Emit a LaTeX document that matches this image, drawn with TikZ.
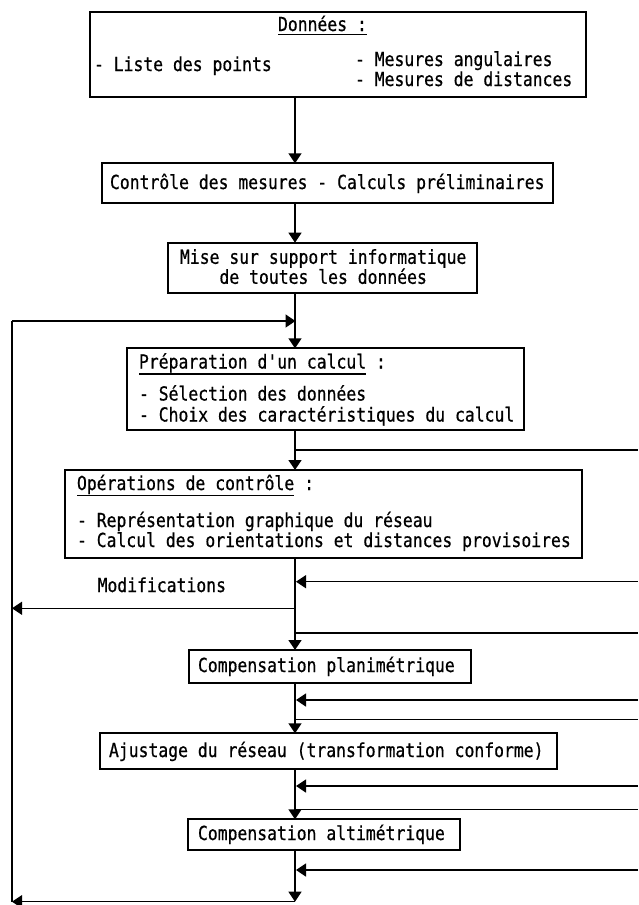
\documentclass[tikz,border=0pt]{standalone}
\usepackage{fontspec}
\newfontfamily\tw[FakeStretch=0.85,FakeBold=0.6]{DejaVu Sans Mono}
\usetikzlibrary{arrows.meta,calc}
\begin{document}
\begin{tikzpicture}[x=1pt,y=-1pt,
  box/.style={draw, line width=2pt, inner sep=0pt, outer sep=0pt, anchor=north west},
  lbl/.style={anchor=base west, inner sep=0pt, outer sep=0pt, font=\tw\fontsize{19.3}{21}\selectfont},
  conn/.style={line width=1.4pt},
  ul/.style={line width=1.3pt},
  arr/.style={conn, -{Triangle[length=10pt,width=13pt]}},
]
\useasboundingbox[fill=white] (0,0) rectangle (638,905);
% boxes
\node[box, minimum width=495.6pt, minimum height=85.3pt] (b1) at (90,11.7) {};
\node[box, minimum width=451.3pt, minimum height=39.4pt] (b2) at (101.7,163.3) {};
\node[box, minimum width=309pt, minimum height=50pt] (b3) at (167.5,242.7) {};
\node[box, minimum width=397pt, minimum height=81.7pt] (b4) at (127,348.3) {};
\node[box, minimum width=517pt, minimum height=88.3pt] (b5) at (65,470) {};
\node[box, minimum width=282pt, minimum height=32.7pt] (b6) at (189,650) {};
\node[box, minimum width=457pt, minimum height=36pt] (b7) at (100,733.3) {};
\node[box, minimum width=272pt, minimum height=30.7pt] (b8) at (188,819.3) {};
% texts
\node[lbl] (t1) at (278,31) {Données :};
\draw[ul] ([yshift=-3.5pt]t1.base west) -- ([yshift=-3.5pt]t1.base east);
\node[lbl] (t1a) at (94,71) {- Liste des points};
\node[lbl] (t1b) at (355,66) {- Mesures angulaires};
\node[lbl] (t1c) at (355,86) {- Mesures de distances};
\node[lbl] (t2) at (110,189) {Contrôle des mesures - Calculs préliminaires};
\node[lbl] (t3a) at (180,263.8) {Mise sur support informatique};
\node[lbl] (t3b) at (219.5,283.8) {de toutes les données};
\node[lbl] (t4) at (139,368.5) {Préparation d'un calcul};
\node[lbl] (t4c) at (t4.base east) {\ :};
\draw[ul] ([yshift=-5.5pt]t4.base west) -- ([yshift=-5.5pt]t4.base east);
\node[lbl] (t4a) at (139,400.5) {- Sélection des données};
\node[lbl] (t4b) at (139,421.5) {- Choix des caractéristiques du calcul};
\node[lbl] (t5) at (77,490) {Opérations de contrôle};
\node[lbl] (t5c) at (t5.base east) {\ :};
\draw[ul] ([yshift=-5.5pt]t5.base west) -- ([yshift=-5.5pt]t5.base east);
\node[lbl] (t5a) at (77,527) {- Représentation graphique du réseau};
\node[lbl] (t5b) at (77,547) {- Calcul des orientations et distances provisoires};
\node[lbl] (tm) at (97.6,592) {Modifications};
\node[lbl] (t6) at (198,672) {Compensation planimétrique};
\node[lbl] (t7) at (109,757) {Ajustage du réseau (transformation conforme)};
\node[lbl] (t8) at (198,840) {Compensation altimétrique};
% axis coordinates
\coordinate (ax) at (295,0);
\coordinate (loopL) at (12,321);
\coordinate (loopR) at (295.5,321);
\coordinate (j1) at (295,450);   \coordinate (r1) at (638,450);
\coordinate (i1) at (296,581.7); \coordinate (s1) at (638,581.7);
\coordinate (m1) at (295,608.3); \coordinate (mL) at (12,608.3);
\coordinate (j2) at (295,633);   \coordinate (r2) at (638,633);
\coordinate (i2) at (296,700);   \coordinate (s2) at (638,700);
\coordinate (j3) at (295,719.3); \coordinate (r3) at (638,719.3);
\coordinate (i3) at (296,786);   \coordinate (s3) at (638,786);
\coordinate (j4) at (295,809.3); \coordinate (r4) at (638,809.3);
\coordinate (i4) at (296,870);   \coordinate (s4) at (638,870);
\coordinate (endC) at (295,901.7); \coordinate (endL) at (12,901.7);
% main flow
\draw[arr] (b1.south -| ax) -- (b2.north -| ax);
\draw[arr] (b2.south -| ax) -- (b3.north -| ax);
\draw[arr] (b3.south -| ax) -- (b4.north -| ax);
\draw[arr] (b4.south -| ax) -- (b5.north -| ax);
\draw[arr] (b5.south -| ax) -- (b6.north -| ax);
\draw[arr] (b6.south -| ax) -- (b7.north -| ax);
\draw[arr] (b7.south -| ax) -- (b8.north -| ax);
\draw[arr] (b8.south -| ax) -- (endC);
% loops
\draw[arr] (endC) -- (endL);
\draw[conn] (endL) -- (loopL);
\draw[arr] (loopL) -- (loopR);
\draw[arr] (m1) -- (mL);
% right side
\draw[conn] (j1) -- (r1);
\draw[conn] (j2) -- (r2);
\draw[conn] (j3) -- (r3);
\draw[conn] (j4) -- (r4);
\draw[arr] (s1) -- (i1);
\draw[arr] (s2) -- (i2);
\draw[arr] (s3) -- (i3);
\draw[arr] (s4) -- (i4);
\end{tikzpicture}
\end{document}
